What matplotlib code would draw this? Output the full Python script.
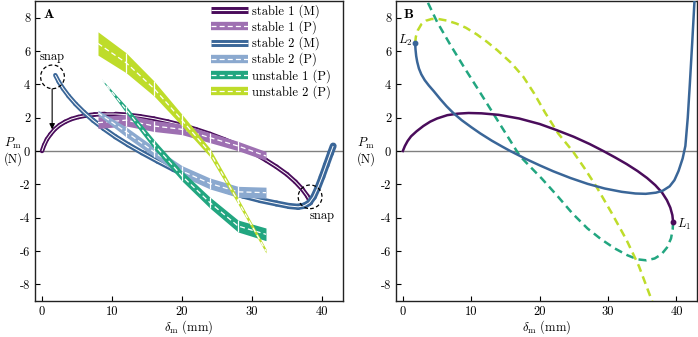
import numpy as np
import matplotlib
matplotlib.use('Agg')
import matplotlib.pyplot as plt
from matplotlib.lines import Line2D
from matplotlib.collections import LineCollection
from matplotlib.patches import Ellipse

plt.rcParams['font.family'] = 'cmr10'
plt.rcParams['mathtext.fontset'] = 'cm'
plt.rcParams['axes.unicode_minus'] = False
plt.rcParams['font.size'] = 9

# colours (viridis-ish)
c_s1m = '#4a0c5b'
c_s1p = '#9e70b2'
c_s2m = '#3a6698'
c_s2p = '#8ba9cf'
c_u1p = '#22a680'
c_u2p = '#bedc2a'

# ---- panel A: model curves (M)
s1m_x = [0, 0.3, 0.7, 1.2, 1.8, 2.5, 3.3, 4.2, 5.2, 6.3, 7.5, 9, 10.5, 12, 14, 16, 18, 20,
         22, 24, 26, 28, 30, 32, 33.5, 35, 36.2, 37.2, 37.9, 38.4]
s1m_y = [0, 0.35, 0.7, 1.0, 1.3, 1.55, 1.75, 1.92, 2.04, 2.13, 2.19, 2.22, 2.22, 2.18, 2.08,
         1.94, 1.76, 1.55, 1.3, 1.02, 0.7, 0.35, -0.05, -0.55, -0.95, -1.4, -1.85, -2.3, -2.7, -3.1]

s2m_x = [1.9, 2.4, 3.0, 3.8, 4.8, 6.0, 7.3, 8.8, 10.5, 12.3, 14.3, 16.5, 18.8, 21.2, 23.7,
         26.2, 28.7, 31.2, 33.5, 35.3, 36.6, 37.5, 38.2, 38.8, 39.4, 40.0, 40.6, 41.2, 41.6]
s2m_y = [4.55, 4.15, 3.75, 3.3, 2.82, 2.32, 1.84, 1.35, 0.85, 0.38, -0.1, -0.6, -1.1, -1.55,
         -1.98, -2.35, -2.68, -2.95, -3.15, -3.3, -3.35, -3.28, -3.1, -2.75, -2.2, -1.55,
         -0.85, -0.15, 0.3]

# ---- panel A: prototype measurements (P), centre and half band
p_x = [8, 12, 16, 20, 24, 28, 32]
s1p_y = [1.7, 1.85, 1.5, 1.3, 0.8, 0.3, -0.3]
s1p_h = [0.35, 0.35, 0.33, 0.32, 0.3, 0.28, 0.27]
s2p_y = [2.3, 1.15, -0.05, -1.2, -1.95, -2.45, -2.5]
s2p_h = [0.15, 0.3, 0.3, 0.32, 0.33, 0.33, 0.33]
u1p_x = [8.5, 12, 16, 20, 24, 28, 32]
u1p_y = [4.3, 2.5, 0.4, -1.5, -3.1, -4.5, -5.0]
u1p_h = [0.02, 0.2, 0.28, 0.3, 0.33, 0.36, 0.38]
u2p_y = [6.45, 5.3, 3.75, 1.85, -0.1, -3.0, -6.0]
u2p_h = [0.7, 0.6, 0.45, 0.35, 0.25, 0.18, 0.12]

# ---- panel B: equilibrium branches
b_s1_x = [0, 0.3, 0.7, 1.2, 2, 3, 4, 5, 6.5, 8, 9.6, 11.5, 14, 17, 20, 22.5, 25, 27.3, 29.3,
          31, 32.7, 34.3, 35.7, 36.9, 37.9, 38.6, 39.1, 39.4, 39.5]
b_s1_y = [0, 0.3, 0.6, 0.88, 1.18, 1.5, 1.76, 1.95, 2.15, 2.24, 2.28, 2.26, 2.17, 1.95, 1.62,
          1.25, 0.85, 0.42, 0.0, -0.38, -0.78, -1.2, -1.62, -2.05, -2.5, -2.95, -3.4, -3.85, -4.24]

b_s2_x = [1.8, 1.85, 1.95, 2.1, 2.35, 2.7, 3.2, 3.8, 4.5, 5.5, 6.4, 7.4, 8.6, 10.0, 11.3, 13.0,
          14.5, 15.7, 18.0, 20.0, 22.0, 24.5, 27.0, 29.5, 32.0, 34.0, 35.5, 37.0, 38.0, 39.0,
          39.7, 40.3, 40.9, 41.3, 41.65, 41.95, 42.3, 42.7]
b_s2_y = [6.46, 6.1, 5.7, 5.35, 4.95, 4.6, 4.25, 3.93, 3.6, 3.1, 2.68, 2.27, 1.85, 1.43, 1.06,
          0.62, 0.27, 0.0, -0.48, -0.86, -1.22, -1.62, -1.97, -2.25, -2.45, -2.55, -2.57, -2.5,
          -2.38, -2.12, -1.75, -1.2, -0.45, 0.3, 2.0, 4.0, 6.5, 9.5]

b_u1_x = [39.5, 39.45, 39.2, 38.6, 37.8, 36.8, 35.6, 34.3, 32.8, 31.0, 29.0, 27.0, 24.8,
          22.6, 20.3, 18.4, 17.1, 15.2, 13.2, 11.0, 8.9, 6.9, 5.0, 3.2]
b_u1_y = [-4.24, -4.7, -5.25, -5.8, -6.2, -6.45, -6.56, -6.5, -6.25, -5.85, -5.3, -4.65,
          -3.75, -2.7, -1.65, -0.85, -0.3, 0.95, 2.26, 3.7, 5.06, 6.4, 7.75, 9.3]

b_u2_x = [1.8, 1.9, 2.2, 2.7, 3.4, 4.2, 5.2, 6.5, 7.8, 9.2, 10.8, 12.3, 13.8, 15.8, 17.6,
          19.2, 20.8, 22.7, 24.9, 26.5, 28.3, 30.5, 32.7, 34.5, 36.7]
b_u2_y = [6.46, 6.85, 7.25, 7.6, 7.82, 7.92, 7.92, 7.82, 7.65, 7.4, 7.0, 6.55, 6.05, 5.3,
          4.46, 3.45, 2.3, 1.06, -0.05, -1.0, -2.14, -3.7, -5.34, -6.9, -9.3]

fig = plt.figure(figsize=(6.98, 3.37), dpi=100)
axA = fig.add_axes([35/698, 36/337, 308/698, 300/337])
axB = fig.add_axes([396/698, 36/337, 301/698, 300/337])

xticks = [0, 10, 20, 30, 40]
yticks = [-8, -6, -4, -2, 0, 2, 4, 6, 8]
for ax in (axA, axB):
    ax.set_xlim(-1, 43)
    ax.set_ylim(-9, 9)
    ax.axhline(0, color='#808080', lw=1.0, zorder=1)
    ax.set_xticks(xticks)
    ax.set_xticklabels([str(t) for t in xticks])
    ax.set_yticks(yticks)
    ax.set_yticklabels([str(t) for t in yticks])
    ax.tick_params(direction='in', length=3.5, width=0.8, labelsize=9, pad=3.5)
    for sp in ax.spines.values():
        sp.set_linewidth(1.0)
        sp.set_color('#222222')
    ax.set_xlabel(r'$\delta_\mathrm{m}$ (mm)', fontsize=9, labelpad=0.5)
    ax.set_ylabel('$P_\\mathrm{m}$\n(N)', rotation=0, fontsize=9, va='center', ha='center',
                  multialignment='center')


def model_band(ax, x, y, color, w0, w1, z):
    pts = np.column_stack([x, y])
    segs = np.stack([pts[:-1], pts[1:]], axis=1)
    lc = LineCollection(segs, colors=color, linewidths=np.linspace(w0, w1, len(segs)),
                        capstyle='round', joinstyle='round', zorder=z)
    ax.add_collection(lc)
    ax.plot(x, y, color='white', lw=0.7, zorder=z + 0.1, solid_capstyle='butt')


def proto_band(ax, x, y, h, color, z):
    x = np.array(x, float)
    y = np.array(y, float)
    h = np.array(h, float)
    ax.fill_between(x, y - h, y + h, color=color, lw=0, zorder=z)
    ax.plot(x, y, color='white', lw=0.9, dashes=(4, 2.5), zorder=z + 0.1)
    ax.vlines(x[1:-1], y[1:-1] - h[1:-1], y[1:-1] + h[1:-1], color='white', lw=0.9,
              zorder=z + 0.1)


model_band(axA, s1m_x, s1m_y, c_s1m, 3.2, 3.4, 3)
model_band(axA, s2m_x, s2m_y, c_s2m, 3.2, 5.0, 3.5)
proto_band(axA, p_x, s1p_y, s1p_h, c_s1p, 4)
proto_band(axA, p_x, s2p_y, s2p_h, c_s2p, 5)
proto_band(axA, u1p_x, u1p_y, u1p_h, c_u1p, 6)
proto_band(axA, p_x, u2p_y, u2p_h, c_u2p, 7)

# snap annotations
axA.add_patch(Ellipse((1.5, 4.45), 3.4, 1.42, fill=False, ls=(0, (3, 2)), lw=0.9,
                      color='k', zorder=10))
axA.text(1.5, 5.3, 'snap', ha='center', va='bottom', fontsize=9)
axA.annotate('', xy=(1.45, 1.3), xytext=(1.45, 3.72),
             arrowprops=dict(arrowstyle='-|>', color='k', lw=0.8, mutation_scale=8,
                             shrinkA=0, shrinkB=0), zorder=10)
axA.add_patch(Ellipse((38.3, -2.75), 3.4, 1.42, fill=False, ls=(0, (3, 2)), lw=0.9,
                      color='k', zorder=10))
axA.text(40.0, -3.55, 'snap', ha='center', va='top', fontsize=9)
axA.text(0.025, 0.975, r'$\mathbf{A}$', transform=axA.transAxes, ha='left', va='top',
         fontsize=10)

# legend
h_m = lambda c: (Line2D([], [], color=c, lw=5.0, solid_capstyle='butt'),
                 Line2D([], [], color='white', lw=0.8, solid_capstyle='butt'))
h_p = lambda c: (Line2D([], [], color=c, lw=6.0, solid_capstyle='butt'),
                 Line2D([], [], color='white', lw=0.9, dashes=(4, 2.5)))
handles = [h_m(c_s1m), h_p(c_s1p), h_m(c_s2m), h_p(c_s2p), h_p(c_u1p), h_p(c_u2p)]
labels = ['stable 1 (M)', 'stable 1 (P)', 'stable 2 (M)', 'stable 2 (P)',
          'unstable 1 (P)', 'unstable 2 (P)']
axA.legend(handles, labels, loc='upper right', bbox_to_anchor=(0.962, 0.99), frameon=False,
           fontsize=9, handlelength=2.95, handletextpad=0.35, labelspacing=0.2,
           borderpad=0, borderaxespad=0)

# panel B
axB.plot(b_s1_x, b_s1_y, color=c_s1m, lw=1.8, zorder=4)
axB.plot(b_s2_x, b_s2_y, color=c_s2m, lw=1.8, zorder=4)
axB.plot(b_u1_x, b_u1_y, color=c_u1p, lw=1.8, dashes=(3.2, 2.0), zorder=3)
axB.plot(b_u2_x, b_u2_y, color=c_u2p, lw=1.8, dashes=(3.2, 2.0), zorder=3)
axB.plot(b_s1_x[-1], b_s1_y[-1], 'o', color=c_s1m, ms=3.2, zorder=5)
axB.plot(b_s2_x[0], b_s2_y[0], 'o', color=c_s2m, ms=3.2, zorder=5)
axB.text(b_s1_x[-1] + 0.6, b_s1_y[-1] - 0.15, '$L_1$', ha='left', va='center', fontsize=9)
axB.text(b_s2_x[0] - 0.4, b_s2_y[0] + 0.15, '$L_2$', ha='right', va='center', fontsize=9)
axB.text(0.023, 0.975, r'$\mathbf{B}$', transform=axB.transAxes, ha='left', va='top',
         fontsize=10)

axA.yaxis.set_label_coords(-0.072, 0.5)
axB.yaxis.set_label_coords(-0.1, 0.5)

fig.savefig('out.png', dpi=100)
